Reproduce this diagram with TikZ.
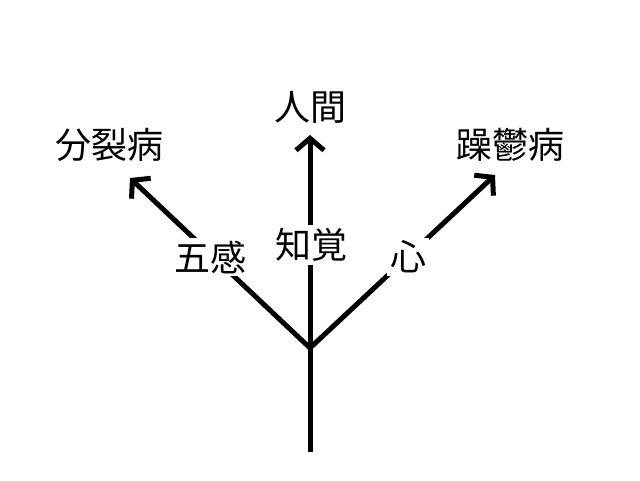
\documentclass[tikz,border=0pt]{standalone}
\usepackage{fontspec}
\newfontfamily\cjk{Noto Sans CJK JP}
\usetikzlibrary{arrows.meta}
\begin{document}
\begin{tikzpicture}[x=1pt,y=-1pt,
  lbl/.style={font=\cjk\fontsize{36}{36}\selectfont, inner sep=2pt},
  cut/.style={lbl, fill=white, inner sep=3pt},
  branch/.style={line width=5pt, -{Straight Barb[length=12pt,width=28pt,line width=5pt]}}]
\useasboundingbox[fill=white] (0,0) rectangle (640,480);
\coordinate (B) at (310,452);
\coordinate (J) at (310,348);
\coordinate (TL) at (130,178);
\coordinate (TU) at (310,135);
\coordinate (TR) at (495,175);
\draw[line width=5pt] (B) -- (J);
\draw[branch] (J) -- (TL);
\draw[branch] (J) -- (TU);
\draw[branch] (J) -- (TR);
\node[lbl] (ningen) at (310,107) {人間};
\node[lbl] (bunretsu) at (109,145) {分裂病};
\node[lbl] (souutsu) at (510,145) {躁鬱病};
\node[cut] (goukan) at (210,257) {五感};
\node[cut] (chikaku) at (311,245) {知覚};
\node[cut] (kokoro) at (408,257) {心};
\end{tikzpicture}
\end{document}
